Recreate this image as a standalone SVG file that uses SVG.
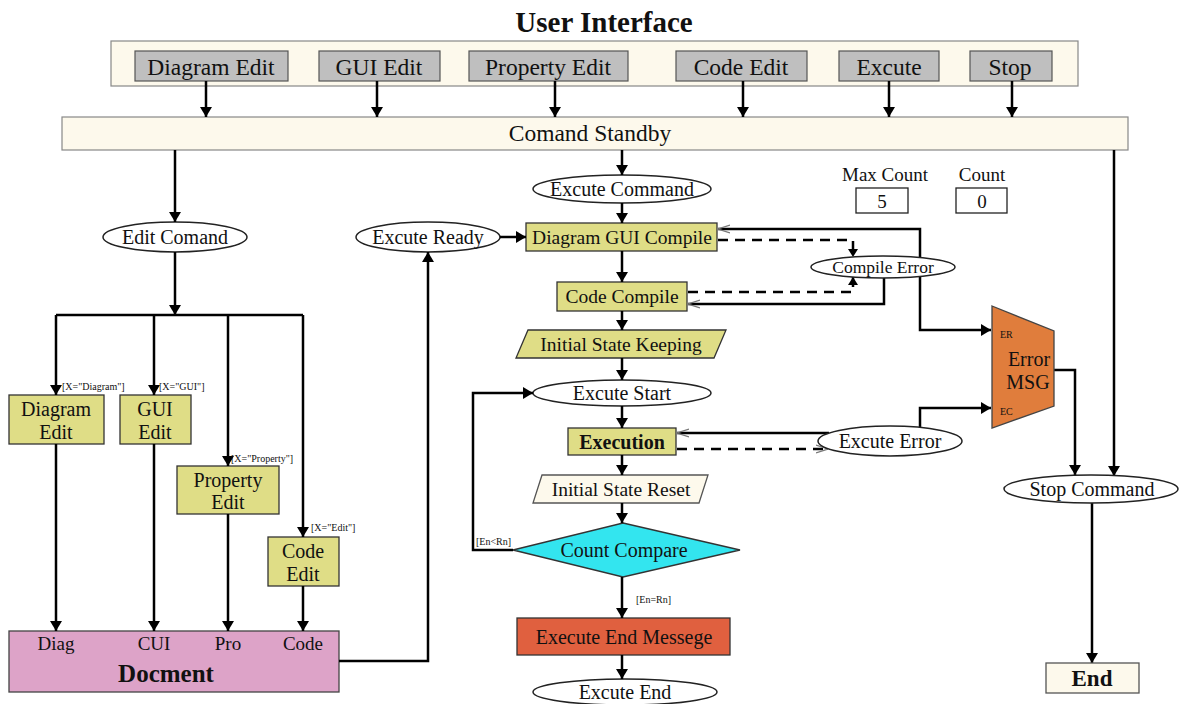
<svg xmlns="http://www.w3.org/2000/svg" width="1182" height="704" viewBox="0 0 1182 704">
<style>
text{font-family:"Liberation Serif","DejaVu Serif",serif;fill:#111;text-anchor:middle}
.b{font-weight:bold}
.btn{fill:#bfbfbf;stroke:#555;stroke-width:1.2}
.yel{fill:#dfdd86;stroke:#333;stroke-width:1.3}
.ell{fill:#fff;stroke:#222;stroke-width:1.5}
.cream{fill:#fdf9ec;stroke:#555;stroke-width:1.3}
.c{fill:none;stroke:#000;stroke-width:2.5}
.d{fill:none;stroke:#000;stroke-width:2.5;stroke-dasharray:10,7}
.sm{font-size:10px;text-anchor:start}
</style>
<defs>
<marker id="a" viewBox="0 0 10 14" refX="10" refY="7" markerWidth="10" markerHeight="14" markerUnits="userSpaceOnUse" orient="auto"><path d="M0,1 L10,7 L0,13 Z" fill="#000"/></marker>
<marker id="s" viewBox="0 0 12 10" refX="12" refY="5" markerWidth="12" markerHeight="10" markerUnits="userSpaceOnUse" orient="auto"><path d="M0,1 L12,5 L0,9" fill="none" stroke="#777" stroke-width="1.3"/></marker>
<marker id="f" viewBox="0 0 8 12" refX="8" refY="6" markerWidth="8" markerHeight="12" markerUnits="userSpaceOnUse" orient="auto"><path d="M0,1 L8,6 L0,11 Z" fill="#000"/></marker>
</defs>
<rect width="1182" height="704" fill="#fff"/>
<text x="604" y="32" class="b" font-size="29">User Interface</text>
<g id="ui-panel"><rect x="111" y="41" width="967" height="45" fill="#fdf9ec" stroke="#888" stroke-width="1.2"/></g>
<g id="btn-diagram"><rect class="btn" x="135" y="51" width="153" height="30"/><text x="211" y="75" font-size="23.5">Diagram Edit</text></g>
<g id="btn-gui"><rect class="btn" x="319" y="51" width="121" height="30"/><text x="379" y="75" font-size="23.5">GUI Edit</text></g>
<g id="btn-property"><rect class="btn" x="469" y="51" width="159" height="30"/><text x="548" y="75" font-size="23.5">Property Edit</text></g>
<g id="btn-code"><rect class="btn" x="676" y="51" width="131" height="30"/><text x="741" y="75" font-size="23.5">Code Edit</text></g>
<g id="btn-excute"><rect class="btn" x="839" y="51" width="100" height="30"/><text x="889" y="75" font-size="23.5">Excute</text></g>
<g id="btn-stop"><rect class="btn" x="970" y="51" width="82" height="30"/><text x="1010" y="75" font-size="23.5">Stop</text></g>
<g id="command-standby"><rect x="62" y="117" width="1066" height="33" fill="#fdf9ec" stroke="#888" stroke-width="1.2"/><text x="590" y="141" font-size="23.5">Comand Standby</text></g>
<g id="edit-comand"><ellipse class="ell" cx="175" cy="237" rx="72" ry="15"/><text x="175" y="244" font-size="20">Edit Comand</text></g>
<g id="diagram-edit"><rect class="yel" x="9" y="395" width="95" height="49"/><text x="56" y="416" font-size="20">Diagram</text><text x="56" y="439" font-size="20">Edit</text></g>
<g id="gui-edit"><rect class="yel" x="120" y="395" width="71" height="49"/><text x="155" y="416" font-size="20">GUI</text><text x="155" y="439" font-size="20">Edit</text></g>
<g id="property-edit"><rect class="yel" x="177" y="466" width="102" height="48"/><text x="228" y="487" font-size="20">Property</text><text x="228" y="509" font-size="20">Edit</text></g>
<g id="code-edit"><rect class="yel" x="268" y="537" width="71" height="49"/><text x="303" y="558" font-size="20">Code</text><text x="303" y="581" font-size="20">Edit</text></g>
<g id="document"><rect x="9" y="631" width="330" height="61" fill="#dda3c8" stroke="#444" stroke-width="1.3"/><text x="56" y="650" font-size="19">Diag</text><text x="154" y="650" font-size="19">CUI</text><text x="228" y="650" font-size="19">Pro</text><text x="303" y="650" font-size="19">Code</text><text x="166" y="682" class="b" font-size="25">Docment</text></g>
<g id="excute-ready"><ellipse class="ell" cx="428" cy="237" rx="72" ry="15"/><text x="428" y="244" font-size="20">Excute Ready</text></g>
<g id="excute-command"><ellipse class="ell" cx="622" cy="189" rx="89" ry="14"/><text x="622" y="196" font-size="20">Excute Command</text></g>
<g id="diagram-gui-compile"><rect class="yel" x="526" y="223" width="191" height="28"/><text x="622" y="244" font-size="19.5">Diagram GUI Compile</text></g>
<g id="code-compile"><rect class="yel" x="557" y="282" width="130" height="29"/><text x="622" y="303" font-size="19.5">Code Compile</text></g>
<g id="initial-state-keeping"><polygon class="yel" points="528,330 726,330 714,358 516,358"/><text x="621" y="351" font-size="19.5">Initial State Keeping</text></g>
<g id="excute-start"><ellipse class="ell" cx="622" cy="393" rx="89" ry="13"/><text x="622" y="400" font-size="20">Excute Start</text></g>
<g id="execution"><rect class="yel" x="568" y="428" width="108" height="27"/><text x="622" y="449" class="b" font-size="20">Execution</text></g>
<g id="initial-state-reset"><polygon class="cream" points="542,475 708,475 699,503 533,503"/><text x="621" y="496" font-size="19.5">Initial State Reset</text></g>
<g id="count-compare"><polygon points="623,523 740,550 623,577 513,550" fill="#33e5ef" stroke="#333" stroke-width="1.3"/><text x="624" y="557" font-size="20">Count Compare</text></g>
<g id="execute-end-messege"><rect x="517" y="618" width="213" height="37" fill="#e0603f" stroke="#333" stroke-width="1.3"/><text x="624" y="644" font-size="20">Execute End Messege</text></g>
<g id="excute-end"><ellipse class="ell" cx="625" cy="692" rx="92" ry="13"/><text x="625" y="699" font-size="20">Excute End</text></g>
<g id="max-count"><text x="885" y="181" font-size="19">Max Count</text><rect x="856" y="188" width="52" height="25" fill="#fff" stroke="#222" stroke-width="1.3"/><text x="882" y="208" font-size="19">5</text></g>
<g id="count"><text x="982" y="181" font-size="19">Count</text><rect x="956" y="188" width="51" height="25" fill="#fff" stroke="#222" stroke-width="1.3"/><text x="982" y="208" font-size="19">0</text></g>
<g id="connectors">
<path class="c" marker-end="url(#a)" d="M206,81 V117"/>
<path class="c" marker-end="url(#a)" d="M377,81 V117"/>
<path class="c" marker-end="url(#a)" d="M555,81 V117"/>
<path class="c" marker-end="url(#a)" d="M743,81 V117"/>
<path class="c" marker-end="url(#a)" d="M889,81 V117"/>
<path class="c" marker-end="url(#a)" d="M1012,81 V117"/>
<path class="c" marker-end="url(#a)" d="M175,150 V222"/>
<path class="c" marker-end="url(#a)" d="M175,252 V315"/>
<path class="c" d="M56,315 H303"/>
<path class="c" marker-end="url(#a)" d="M56,315 V395"/>
<path class="c" marker-end="url(#a)" d="M154,315 V395"/>
<path class="c" marker-end="url(#a)" d="M228,315 V466"/>
<path class="c" marker-end="url(#a)" d="M303,315 V537"/>
<path class="c" marker-end="url(#a)" d="M56,444 V631"/>
<path class="c" marker-end="url(#a)" d="M154,444 V631"/>
<path class="c" marker-end="url(#a)" d="M228,514 V631"/>
<path class="c" marker-end="url(#a)" d="M303,586 V631"/>
<path class="c" marker-end="url(#a)" d="M339,661 H428 V252"/>
<path class="c" marker-end="url(#a)" d="M500,237 H526"/>
<path class="c" marker-end="url(#a)" d="M622,150 V175"/>
<path class="c" marker-end="url(#a)" d="M622,203 V223"/>
<path class="c" marker-end="url(#a)" d="M622,251 V282"/>
<path class="c" marker-end="url(#a)" d="M622,311 V330"/>
<path class="c" marker-end="url(#a)" d="M622,358 V380"/>
<path class="c" marker-end="url(#a)" d="M622,406 V428"/>
<path class="c" marker-end="url(#a)" d="M622,455 V475"/>
<path class="c" marker-end="url(#a)" d="M622,503 V523"/>
<path class="c" marker-end="url(#a)" d="M513,550 H473 V393 H533"/>
<path class="c" marker-end="url(#a)" d="M622,577 V618"/>
<path class="c" marker-end="url(#a)" d="M622,655 V679"/>
<path class="c" marker-end="url(#s)" d="M920,258 V229 H718"/>
<path class="c" marker-end="url(#a)" d="M920,277 V330 H991"/>
<path class="d" marker-end="url(#f)" d="M718,240 H853 V257"/>
<path class="d" marker-end="url(#f)" d="M688,292 H853 V277"/>
<path class="c" marker-end="url(#s)" d="M884,278 V304 H688"/>
<path class="c" marker-end="url(#s)" d="M829,433 H677"/>
<path class="d" marker-end="url(#s)" d="M677,449 H828"/>
<path class="c" marker-end="url(#a)" d="M920,427 V408 H991"/>
<path class="c" marker-end="url(#a)" d="M1054,370 H1075 V475"/>
<path class="c" marker-end="url(#a)" d="M1114,150 V476"/>
<path class="c" marker-end="url(#a)" d="M1092,503 V663"/>
</g>
<g id="labels">
<text x="62" y="390" class="sm">[X="Diagram"]</text>
<text x="159" y="390" class="sm">[X="GUI"]</text>
<text x="231" y="462" class="sm">[X="Property"]</text>
<text x="311" y="531" class="sm">[X="Edit"]</text>
<text x="476" y="545" class="sm">[En&lt;Rn]</text>
<text x="636" y="603" class="sm">[En=Rn]</text>
</g>
<g id="compile-error"><ellipse class="ell" cx="883" cy="267" rx="72" ry="11"/><text x="883" y="273" font-size="17.5">Compile Error</text></g>
<g id="excute-error"><ellipse class="ell" cx="890" cy="441" rx="72" ry="15"/><text x="890" y="448" font-size="20">Excute Error</text></g>
<g id="error-msg"><polygon points="992,306 1054,331 1054,406 992,428" fill="#e07d3c" stroke="#444" stroke-width="1.3"/><text x="1000" y="338" class="sm" font-size="11">ER</text><text x="1000" y="415" class="sm" font-size="11">EC</text><text x="1029" y="366" font-size="20">Error</text><text x="1028" y="389" font-size="20">MSG</text></g>
<g id="stop-command"><ellipse class="ell" cx="1091" cy="489" rx="87" ry="14"/><text x="1092" y="496" font-size="20">Stop Command</text></g>
<g id="end"><rect class="cream" x="1046" y="663" width="93" height="30"/><text x="1092" y="686" class="b" font-size="23">End</text></g>
</svg>
